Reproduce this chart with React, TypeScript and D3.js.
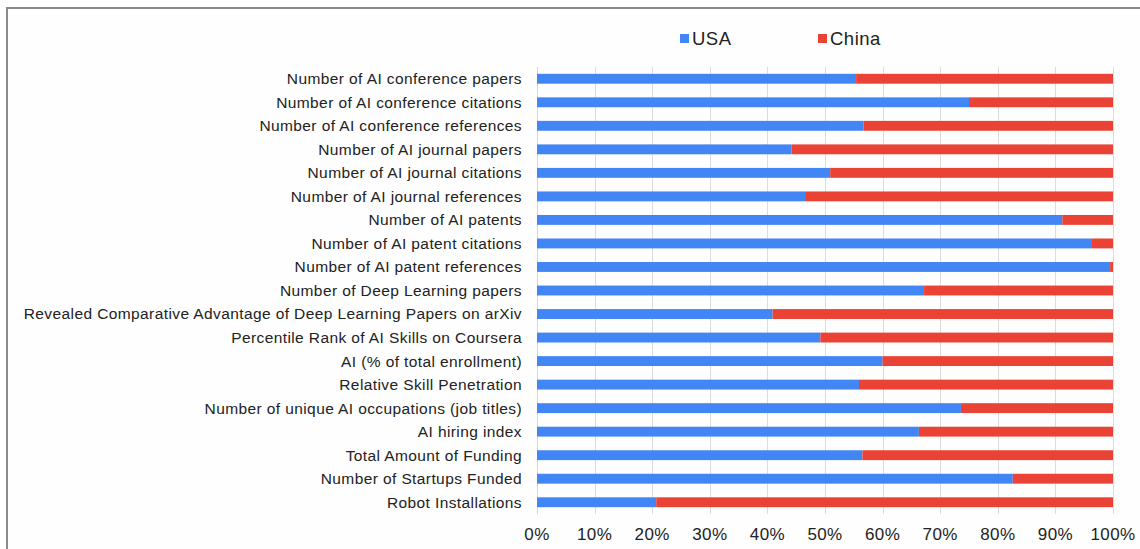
import React from "react";
import * as d3 from "d3";

const categories = [
  "Number of AI conference papers",
  "Number of AI conference citations",
  "Number of AI conference references",
  "Number of AI journal papers",
  "Number of AI journal citations",
  "Number of AI journal references",
  "Number of AI patents",
  "Number of AI patent citations",
  "Number of AI patent references",
  "Number of Deep Learning papers",
  "Revealed Comparative Advantage of Deep Learning Papers on arXiv",
  "Percentile Rank of AI Skills on Coursera",
  "AI (% of total enrollment)",
  "Relative Skill Penetration",
  "Number of unique AI occupations (job titles)",
  "AI hiring index",
  "Total Amount of Funding",
  "Number of Startups Funded",
  "Robot Installations",
];

const usaShare = [55.4, 75.0, 56.7, 44.2, 50.9, 46.7, 91.2, 96.2, 99.5, 67.2, 40.9, 49.2, 60.0, 55.9, 73.6, 66.3, 56.5, 82.6, 20.7];
const chinaShare = usaShare.map((v) => 100 - v);

const seriesNames = ["USA", "China"];
const seriesColors = ["#4285f4", "#ea4335"];
const tickValues = [0, 10, 20, 30, 40, 50, 60, 70, 80, 90, 100];

export default function App() {
  const W = 1140;
  const H = 549;
  const left = 537;
  const right = 1113;
  const top = 67;
  const bottom = 514;

  const x = d3.scaleLinear().domain([0, 100]).range([left, right]);
  const y = d3
    .scaleBand<string>()
    .domain(categories)
    .range([top, bottom])
    .paddingInner(0.58)
    .paddingOuter(0.29);

  const stackData = categories.map((c, i) => ({ cat: c, USA: usaShare[i], China: chinaShare[i] }));
  const stack = d3.stack<any>().keys(seriesNames)(stackData);

  const font = "'Liberation Sans', Arial, sans-serif";

  return (
    <svg
      width={W}
      height={H}
      style={{ position: "absolute", left: 0, top: 0, background: "#fff" }}
      fontFamily={font}
    >
      <rect x={0} y={0} width={W} height={H} fill="#fff" />
      <rect x={7} y={8} width={W + 20} height={H + 20} fill="#fefefe" stroke="#8a8a8a" strokeWidth={2} />
      {/* gridlines */}
      {tickValues.map((t) => (
        <line
          key={"g" + t}
          x1={Math.round(x(t)) + 0.5}
          x2={Math.round(x(t)) + 0.5}
          y1={top}
          y2={bottom}
          stroke={t === 0 ? "#d8d8c8" : "#dcdcdc"}
          strokeWidth={1}
        />
      ))}
      {/* bars */}
      {stack.map((s, si) => (
        <g key={seriesNames[si]} fill={seriesColors[si]}>
          {s.map((d, i) => (
            <rect
              key={i}
              x={x(d[0])}
              y={y(categories[i])!}
              width={Math.max(0, x(d[1]) - x(d[0]))}
              height={y.bandwidth()}
            />
          ))}
        </g>
      ))}
      {/* category labels */}
      {categories.map((c) => (
        <text
          key={c}
          x={522}
          y={y(c)! + y.bandwidth() / 2}
          dy="0.35em"
          textAnchor="end"
          fontSize={15.5}
          letterSpacing={0.4}
          fill="#222"
        >
          {c}
        </text>
      ))}
      {/* x tick labels */}
      {tickValues.map((t) => (
        <text key={"t" + t} x={x(t)} y={540} textAnchor="middle" fontSize={17} letterSpacing={0.4} fill="#222">
          {t + "%"}
        </text>
      ))}
      {/* legend */}
      <rect x={680} y={34} width={9} height={9} fill={seriesColors[0]} />
      <text x={692} y={45} fontSize={18.5} letterSpacing={0.5} fill="#222">
        {seriesNames[0]}
      </text>
      <rect x={818} y={34} width={9} height={9} fill={seriesColors[1]} />
      <text x={830} y={45} fontSize={18.5} letterSpacing={0.5} fill="#222">
        {seriesNames[1]}
      </text>
    </svg>
  );
}
